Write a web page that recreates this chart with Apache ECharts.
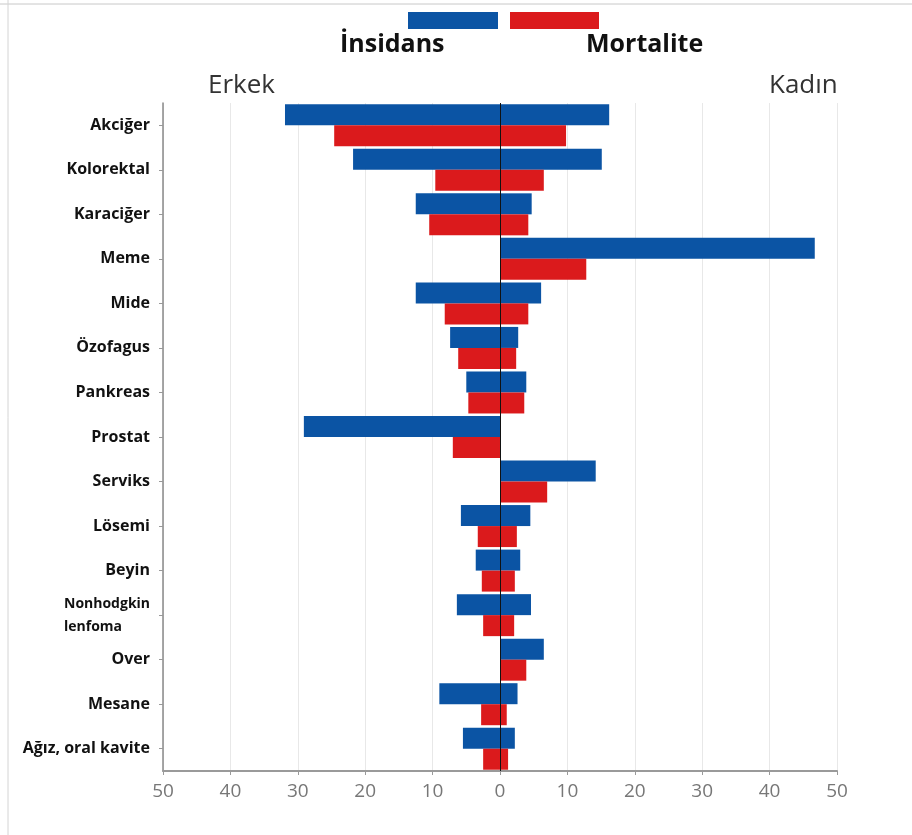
<!DOCTYPE html>
<html>
<head>
<meta charset="utf-8">
<title>İnsidans / Mortalite</title>
<script src="https://cdn.jsdelivr.net/npm/echarts@6/dist/echarts.min.js"></script>
<style>
  html, body { margin: 0; padding: 0; background: #fff; }
  #chart { width: 912px; height: 835px; }
</style>
</head>
<body>
<div id="chart"></div>
<script>
const categories = ["Akciğer", "Kolorektal", "Karaciğer", "Meme", "Mide", "Özofagus", "Pankreas",
  "Prostat", "Serviks", "Lösemi", "Beyin", "Nonhodgkin\nlenfoma", "Over", "Mesane", "Ağız, oral kavite"];
// erkek (sol) ve kadın (sağ) değerleri
const insidansErkek = [31.9, 21.8, 12.5, 0, 12.5, 7.4, 5.0, 29.1, 0, 5.8, 3.6, 6.4, 0, 9.0, 5.5];
const insidansKadin = [16.2, 15.1, 4.7, 46.7, 6.1, 2.7, 3.9, 0, 14.2, 4.5, 3.0, 4.6, 6.5, 2.6, 2.2];
const mortaliteErkek = [24.6, 9.6, 10.5, 0, 8.2, 6.2, 4.7, 7.0, 0, 3.3, 2.7, 2.5, 0, 2.8, 2.5];
const mortaliteKadin = [9.8, 6.5, 4.2, 12.8, 4.2, 2.4, 3.6, 0, 7.0, 2.5, 2.2, 2.1, 3.9, 1.0, 1.2];
const xTicks = [-50, 50, 10];

const BLUE = "#0b54a4";
const RED = "#db1a1c";
const FONT = "'Open Sans', sans-serif";

const chart = echarts.init(document.getElementById("chart"));

const bar = (name, stack, color, data) => ({
  name: name,
  type: "bar",
  stack: stack,
  barWidth: 21,
  barGap: "0%",
  itemStyle: { color: color },
  data: data,
});

const option = {
  animation: false,
  legend: [
    { data: ["İnsidans"], left: 403, top: 7, itemWidth: 90, itemHeight: 17, icon: "rect", formatter: () => "", selectedMode: false },
    { data: ["Mortalite"], left: 505, top: 7, itemWidth: 89, itemHeight: 17, icon: "rect", formatter: () => "", selectedMode: false },
  ],
  graphic: [
    { type: "line", shape: { x1: 0, y1: 4, x2: 912, y2: 4 }, style: { stroke: "#c8c8c8", lineWidth: 1 } },
    { type: "line", shape: { x1: 8, y1: 0, x2: 8, y2: 835 }, style: { stroke: "#d4d4d4", lineWidth: 1 } },
    { type: "text", x: 340, y: 45, style: { text: "İnsidans", font: "bold 25px " + FONT, fill: "#111", verticalAlign: "middle" } },
    { type: "text", x: 586, y: 45, style: { text: "Mortalite", font: "bold 25px " + FONT, fill: "#111", verticalAlign: "middle" } },
    { type: "text", x: 208, y: 86, style: { text: "Erkek", font: "26px " + FONT, fill: "#333", verticalAlign: "middle" } },
    { type: "text", x: 769, y: 86, style: { text: "Kadın", font: "26px " + FONT, fill: "#333", verticalAlign: "middle" } },
  ],
  grid: { left: 163, right: 75, top: 103, bottom: 64 },
  xAxis: {
    type: "value",
    min: xTicks[0],
    max: xTicks[1],
    interval: xTicks[2],
    axisLine: { show: true, lineStyle: { color: "#9a9a9a", width: 2 } },
    axisTick: { show: true, length: 4, lineStyle: { color: "#9a9a9a" } },
    axisLabel: {
      formatter: (v) => Math.abs(v),
      color: "#777",
      fontSize: 19,
      margin: 11,
      fontFamily: FONT,
    },
    splitLine: { show: true, lineStyle: { color: "#e8e8e8" } },
  },
  yAxis: {
    type: "category",
    inverse: true,
    data: categories,
    axisLine: { show: true, onZero: false, lineStyle: { color: "#8a8a8a", width: 1.5 } },
    axisTick: { show: true, alignWithLabel: true, length: 4, lineStyle: { color: "#999" } },
    axisLabel: {
      color: "#111",
      fontWeight: "bold",
      fontSize: 16,
      margin: 13,
      fontFamily: FONT,
      formatter: (v) => (v.indexOf("\n") >= 0 ? "{s|" + v.replace("\n", "}\n{s|") + "}" : v),
      rich: {
        s: { fontSize: 14, fontWeight: "bold", color: "#111", lineHeight: 23, align: "left", width: 86, fontFamily: FONT },
      },
    },
  },
  series: [
    Object.assign(bar("İnsidans", "ins", BLUE, insidansErkek.map((v) => -v)), {
      markLine: {
        symbol: "none",
        silent: true,
        label: { show: false },
        lineStyle: { color: "#111", type: "solid", width: 1 },
        data: [{ xAxis: 0 }],
      },
      z: 2,
    }),
    bar("İnsidans", "ins", BLUE, insidansKadin),
    bar("Mortalite", "mort", RED, mortaliteErkek.map((v) => -v)),
    bar("Mortalite", "mort", RED, mortaliteKadin),
  ],
};

chart.setOption(option);
</script>
</body>
</html>
